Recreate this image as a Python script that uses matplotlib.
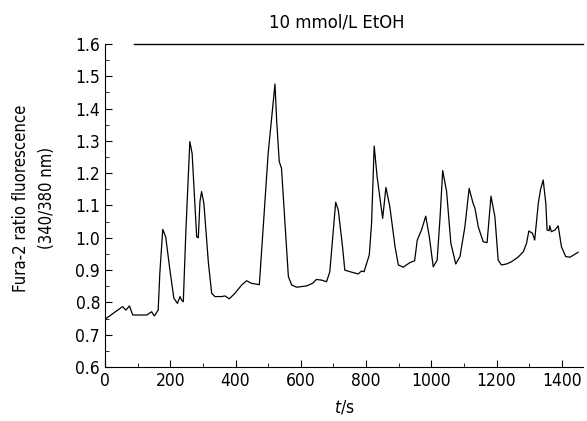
import matplotlib
matplotlib.use("Agg")
import matplotlib.pyplot as plt
from matplotlib.ticker import MultipleLocator

plt.rcParams['font.family'] = ['DejaVu Sans']
plt.rcParams['font.stretch'] = 'condensed'
plt.rcParams['mathtext.fontset'] = 'dejavusans'

time_s = [0, 25, 54, 64, 75, 85, 128, 143, 151, 163, 168, 177, 186, 199, 211,
          222, 230, 235, 240, 248, 260, 267, 281, 286, 291, 296, 303, 317, 327,
          337, 357, 368, 381, 398, 419, 434, 449, 473, 485, 500, 521, 526, 534,
          541, 551, 562, 572, 587, 618, 636, 648, 664, 679, 689, 707, 715, 728,
          735, 751, 776, 786, 794, 810, 817, 825, 834, 851, 861, 873, 889, 899,
          914, 934, 949, 957, 970, 983, 994, 1006, 1018, 1027, 1035, 1047, 1060,
          1075, 1088, 1103, 1116, 1128, 1134, 1144, 1159, 1171, 1183, 1195, 1205,
          1215, 1231, 1246, 1266, 1282, 1292, 1299, 1310, 1317, 1328, 1335, 1343,
          1351, 1355, 1361, 1363, 1368, 1379, 1389, 1399, 1412, 1425, 1450]
ratio = [0.748, 0.766, 0.787, 0.776, 0.789, 0.761, 0.761, 0.771, 0.758, 0.776,
         0.890, 1.026, 1.003, 0.900, 0.813, 0.797, 0.818, 0.807, 0.802, 1.024,
         1.298, 1.261, 1.003, 1.000, 1.112, 1.143, 1.107, 0.921, 0.828, 0.818,
         0.818, 0.820, 0.811, 0.828, 0.854, 0.867, 0.859, 0.855, 1.034, 1.261,
         1.476, 1.365, 1.236, 1.215, 1.055, 0.880, 0.854, 0.847, 0.851, 0.859,
         0.871, 0.869, 0.864, 0.895, 1.110, 1.086, 0.972, 0.900, 0.895, 0.888,
         0.897, 0.895, 0.947, 1.045, 1.284, 1.189, 1.060, 1.156, 1.096, 0.972,
         0.916, 0.909, 0.923, 0.929, 0.993, 1.024, 1.067, 1.003, 0.910, 0.931,
         1.065, 1.208, 1.143, 0.983, 0.919, 0.942, 1.034, 1.153, 1.107, 1.091,
         1.034, 0.988, 0.985, 1.129, 1.065, 0.931, 0.916, 0.919, 0.926, 0.940,
         0.957, 0.983, 1.021, 1.014, 0.993, 1.107, 1.150, 1.179, 1.107, 1.024,
         1.022, 1.037, 1.019, 1.024, 1.037, 0.972, 0.942, 0.940, 0.955]

ethanol_bar = [89, 1464]
ethanol_label = "10 mmol/L EtOH"
ethanol_label_x = 710

fig = plt.figure(figsize=(5.87, 4.21), dpi=100)
ax = fig.add_axes([105/587, 54/421, 478/587, 323/421])
ax.plot(time_s, ratio, color='black', lw=0.9)
ax.set_xlim(0, 1465)
ax.set_ylim(0.6, 1.6)

ax.plot(ethanol_bar, [1.6, 1.6], color='black', lw=1.0, clip_on=False)
ax.text(ethanol_label_x, 1.668, ethanol_label, ha='center', va='center', fontsize=13.2)

for s in ['top', 'right']:
    ax.spines[s].set_visible(False)
ax.xaxis.set_major_locator(MultipleLocator(200))
ax.xaxis.set_minor_locator(MultipleLocator(100))
ax.yaxis.set_major_locator(MultipleLocator(0.1))
ax.yaxis.set_minor_locator(MultipleLocator(0.05))
ax.tick_params(which='both', direction='in', labelsize=12.5)
ax.tick_params(which='major', length=5)
ax.tick_params(which='minor', length=3)
ax.set_yticks([0.6, 0.7, 0.8, 0.9, 1.0, 1.1, 1.2, 1.3, 1.4, 1.5, 1.6])
ax.set_yticklabels(['0.6', '0.7', '0.8', '0.9', '1.0', '1.1', '1.2', '1.3', '1.4', '1.5', '1.6'])

ax.set_xlabel(r'$t$/s', fontsize=12.5, labelpad=6)
ax.set_ylabel('Fura-2 ratio fluorescence\n(340/380 nm)', fontsize=12, linespacing=1.6)
ax.yaxis.set_label_coords(-0.102, 0.523)

fig.savefig('out.png', dpi=100)
